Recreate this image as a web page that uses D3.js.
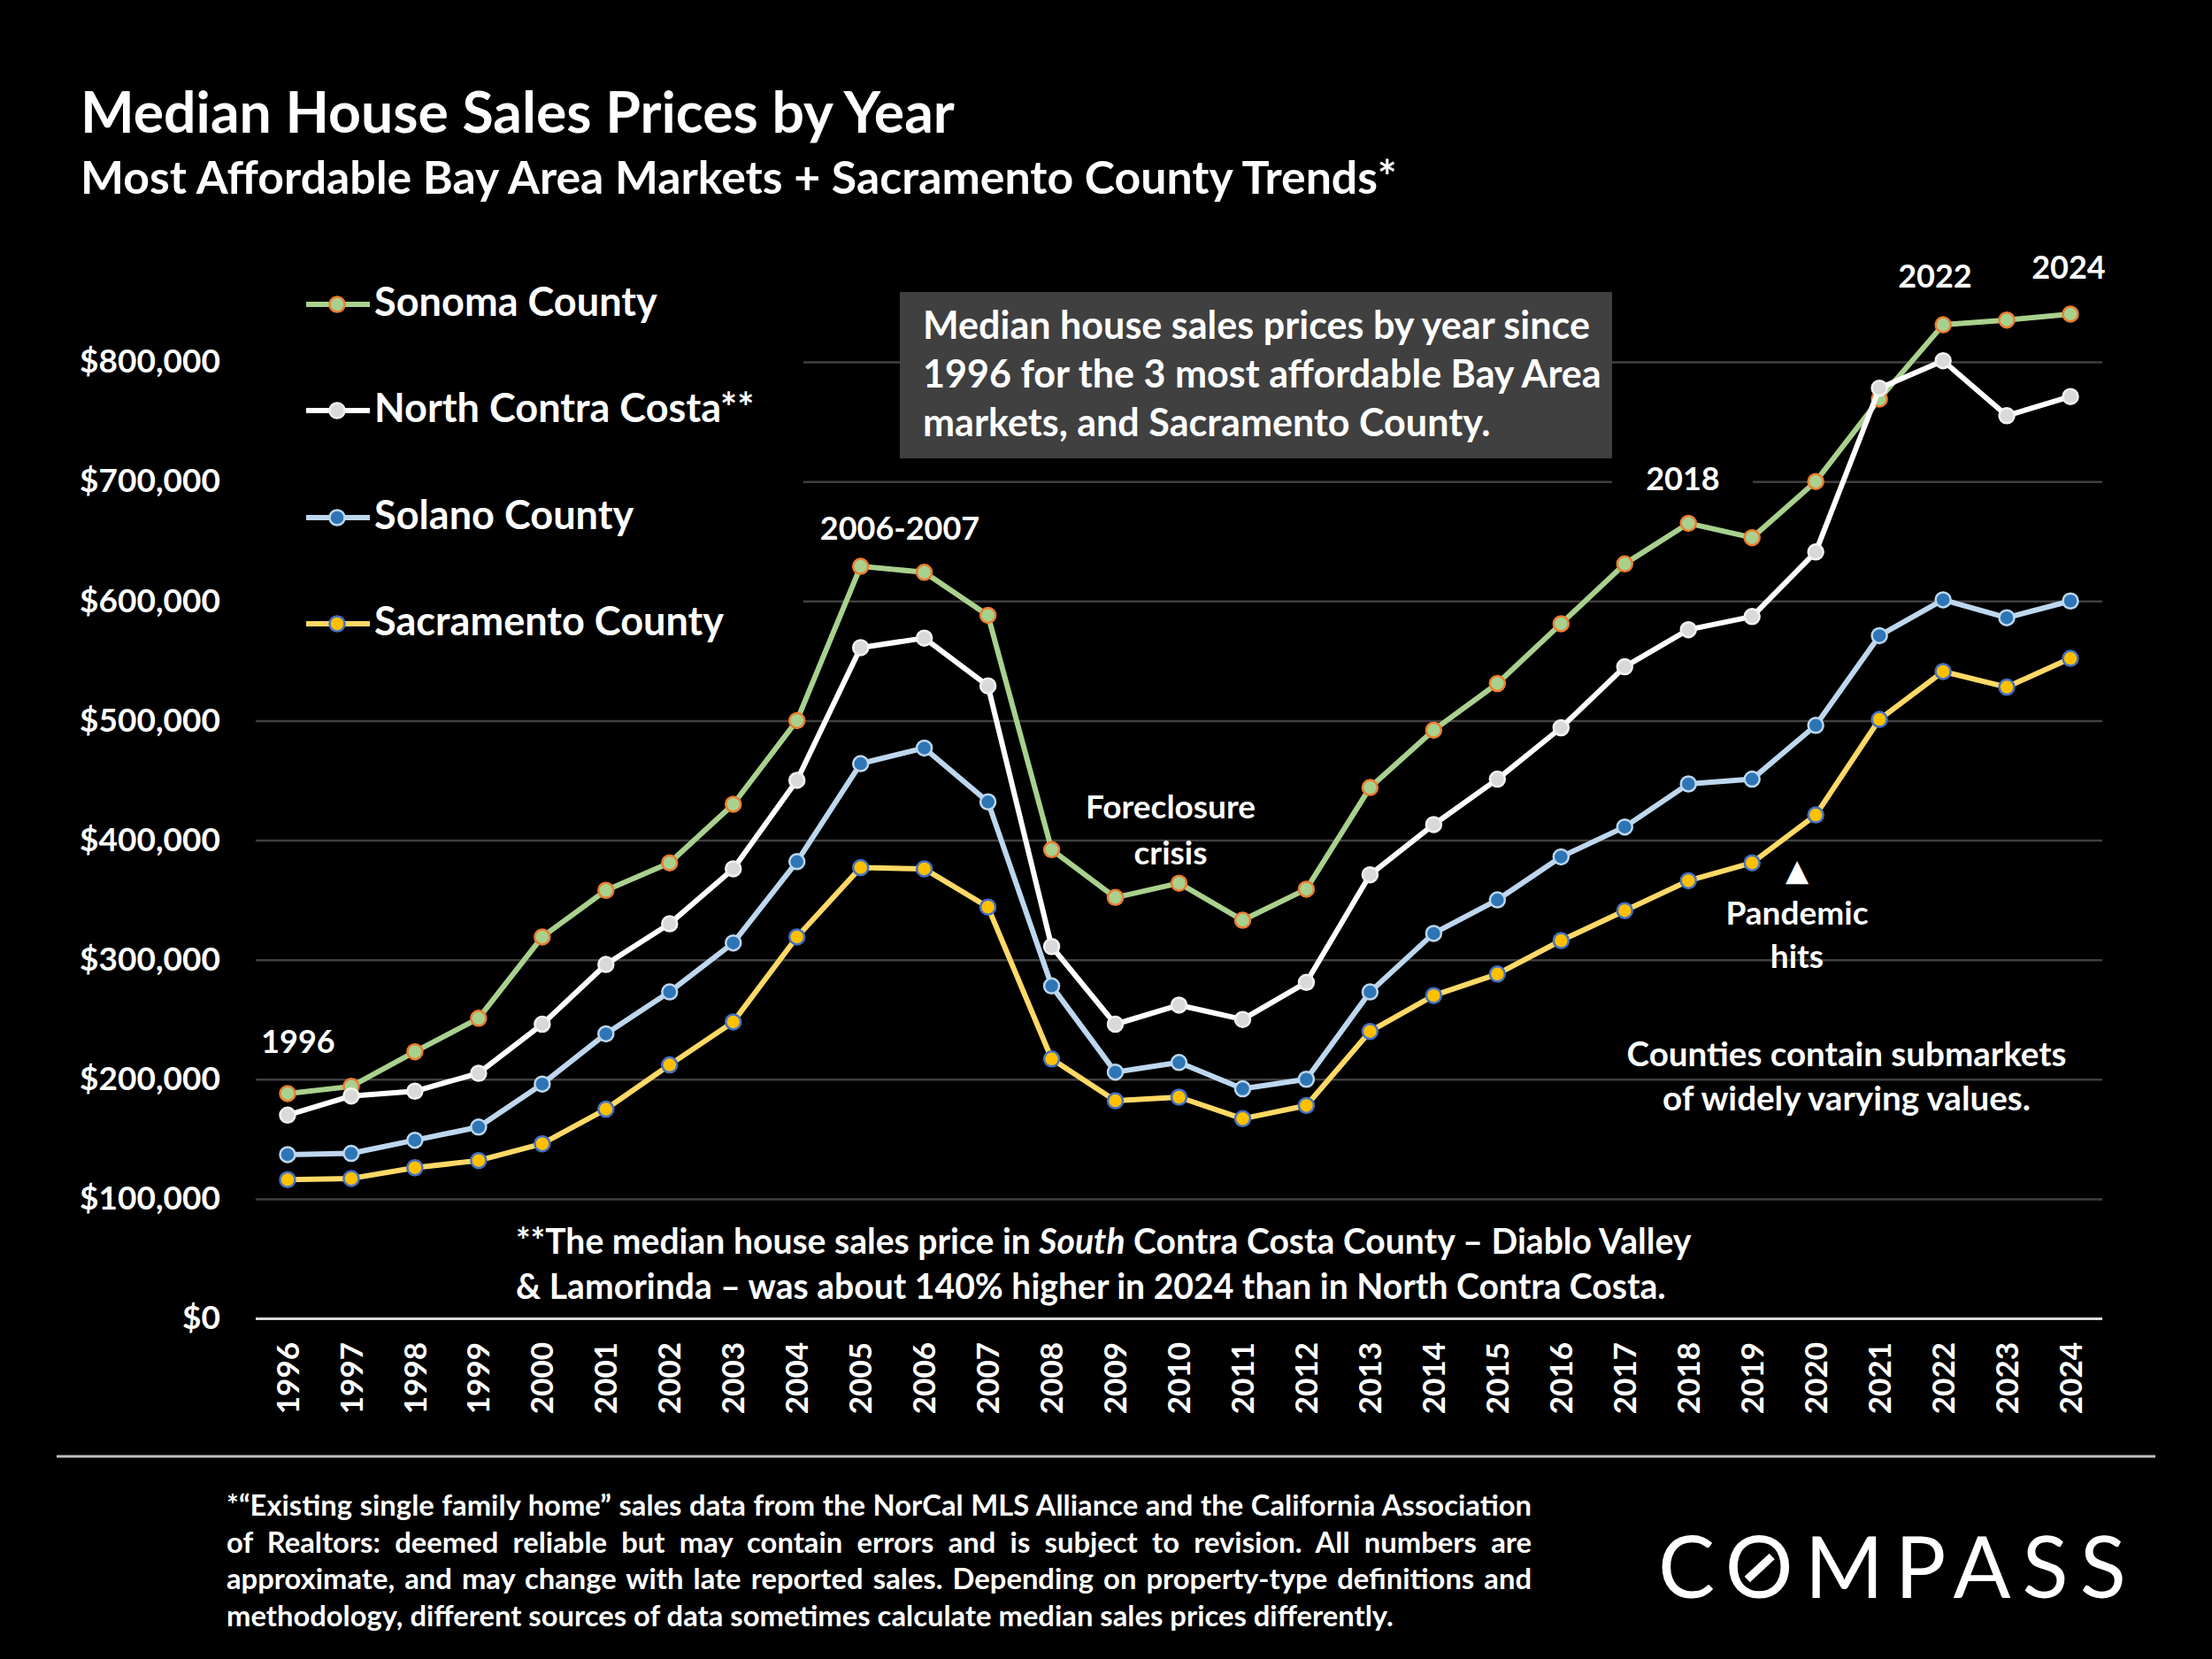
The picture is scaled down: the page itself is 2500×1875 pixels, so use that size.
<!DOCTYPE html>
<html>
<head>
<meta charset="utf-8">
<script src="https://cdn.jsdelivr.net/npm/d3@7"></script>
<style>
    body { margin: 0; background: #000; }
    svg { display: block; font-family: Lato, "Open Sans", sans-serif; font-weight: 700; }
    text { fill: #fff; }
</style>
</head>
<body>
<svg id="chart" width="2500" height="1875"></svg>
<script>
// Data
const years = ["1996", "1997", "1998", "1999", "2000", "2001", "2002", "2003", "2004", "2005",
    "2006", "2007", "2008", "2009", "2010", "2011", "2012", "2013", "2014", "2015",
    "2016", "2017", "2018", "2019", "2020", "2021", "2022", "2023", "2024"];
const sonoma = [188000, 194000, 223000, 251000, 319000, 358000, 381000, 430000, 500000, 629000,
    624000, 588000, 392000, 352000, 364000, 333000, 359000, 444000, 492000, 531000,
    581000, 631000, 665000, 653000, 700000, 769000, 831000, 835000, 840000];
const northContraCosta = [170000, 186000, 190000, 205000, 246000, 296000, 330000, 376000, 450000, 561000,
    569000, 529000, 311000, 246000, 262000, 250000, 281000, 371000, 413000, 451000,
    494000, 545000, 576000, 587000, 641000, 778000, 801000, 755000, 771000];
const solano = [137000, 138000, 149000, 160000, 196000, 238000, 273000, 314000, 382000, 464000,
    477000, 432000, 278000, 206000, 214000, 192000, 200000, 273000, 322000, 350000,
    386000, 411000, 447000, 451000, 496000, 571000, 601000, 586000, 600000];
const sacramento = [116000, 117000, 126000, 132000, 146000, 175000, 212000, 248000, 319000, 377000,
    376000, 344000, 217000, 182000, 185000, 167000, 178000, 240000, 270000, 288000,
    316000, 341000, 366000, 381000, 421000, 501000, 541000, 528000, 552000];
const yTicks = [0, 100000, 200000, 300000, 400000, 500000, 600000, 700000, 800000];

const seriesNames = ["Sonoma County", "North Contra Costa**", "Solano County", "Sacramento County"];
const seriesValues = [sonoma, northContraCosta, solano, sacramento];

const footnoteLines = [
    "*\u201CExisting single family home\u201D sales data from the NorCal MLS Alliance and the California Association",
    "of Realtors: deemed reliable but may contain errors and is subject to revision. All numbers are",
    "approximate, and may change with late reported sales. Depending on property-type definitions and",
    "methodology, different sources of data sometimes calculate median sales prices differently."
];

// Styles per series
const styles = [
    {line: "#A9D18E", fill: "#A9D18E", stroke: "#ED7D31"},
    {line: "#FFFFFF", fill: "#D9D9D9", stroke: "#F2F2F2"},
    {line: "#BDD7EE", fill: "#2E75B6", stroke: "#BDD7EE"},
    {line: "#FFD966", fill: "#FFC000", stroke: "#4472C4"}
];

let svg = d3.select("#chart");
let plotLeft = 289, plotRight = 2376, plotTop = 409, plotBottom = 1490;

svg.append("rect").attr("width", 2500).attr("height", 1875).attr("fill", "#000");

// fit a text to a target width by scaling its font size
function fit(sel, width) {
    let len = sel.node().getComputedTextLength();
    let size = parseFloat(sel.attr("font-size"));
    sel.attr("font-size", size * width / len);
    return size * width / len;
}

// Titles
fit(svg.append("text").attr("x", 91).attr("y", 150).attr("font-size", 60)
    .text("Median House Sales Prices by Year"), 988);
fit(svg.append("text").attr("x", 91).attr("y", 219).attr("font-size", 44)
    .text("Most Affordable Bay Area Markets + Sacramento County Trends*"), 1488);

// Scales
let x = d3.scaleBand().domain(years).range([plotLeft, plotRight]);
let y = d3.scaleLinear().domain([0, 800000]).range([plotBottom, plotTop]);
let cx = d => x(d) + x.bandwidth() / 2;

// Y axis with gridlines
let yAxis = svg.append("g")
    .attr("transform", "translate(" + plotLeft + ",0)")
    .call(d3.axisLeft(y).tickValues(yTicks).tickFormat(d3.format("$,"))
        .tickSize(-(plotRight - plotLeft)).tickPadding(40));
yAxis.select(".domain").remove();
yAxis.selectAll(".tick line")
    .attr("stroke", d => d === 0 ? "#D9D9D9" : "#404040")
    .attr("stroke-width", d => d === 0 ? 3 : 2.5);
yAxis.selectAll(".tick text")
    .attr("font-family", "Lato").attr("font-weight", 700)
    .attr("font-size", 37).attr("fill", "#fff");

// X axis, rotated labels
let xAxis = svg.append("g")
    .attr("transform", "translate(0," + plotBottom + ")")
    .call(d3.axisBottom(x).tickSize(0));
xAxis.select(".domain").remove();
xAxis.selectAll(".tick text")
    .attr("font-family", "Lato").attr("font-weight", 700)
    .attr("font-size", 35).attr("fill", "#fff")
    .attr("transform", "rotate(-90)")
    .attr("text-anchor", "end")
    .attr("x", -27).attr("y", 0).attr("dy", "0.36em");

// Legend (black box hides gridlines)
svg.append("rect").attr("x", plotLeft).attr("y", 300).attr("width", 908 - plotLeft).attr("height", 445)
    .attr("fill", "#000");
let legendY = [344, 464, 585, 705];
let legendText = [];
seriesNames.forEach((name, i) => {
    let g = svg.append("g").attr("transform", "translate(0," + legendY[i] + ")");
    g.append("line").attr("x1", 346).attr("x2", 418).attr("y1", 0).attr("y2", 0)
        .attr("stroke", styles[i].line).attr("stroke-width", 6);
    g.append("circle").attr("cx", 381).attr("cy", 0).attr("r", 8.5)
        .attr("fill", styles[i].fill).attr("stroke", styles[i].stroke).attr("stroke-width", 2.5);
    legendText.push(g.append("text").attr("x", 423).attr("y", 13).attr("font-size", 42).text(name));
});
// one size for all labels, matched to the widest ones
let ls = (fit(legendText[1], 432) + fit(legendText[3], 393)) / 2;
legendText.forEach(t => t.attr("font-size", ls));

// Annotation box
svg.append("rect").attr("x", 1017).attr("y", 330).attr("width", 805).attr("height", 188)
    .attr("fill", "#404040");
let boxLines = ["Median house sales prices by year since",
    "1996 for the 3 most affordable Bay Area",
    "markets, and Sacramento County."];
let boxText = svg.append("g");
boxLines.forEach((l, i) => {
    boxText.append("text").attr("x", 1043).attr("y", 383 + i * 55).attr("font-size", 38).text(l);
});
let bs = fit(boxText.select("text"), 754);
boxText.selectAll("text").attr("font-size", bs);

// "2018" label has a black fill
svg.append("rect").attr("x", 1822).attr("y", 508).attr("width", 159).attr("height", 64).attr("fill", "#000");

// Series lines and markers
let line = d3.line().x((d, i) => cx(years[i])).y(d => y(d));
seriesValues.forEach((vals, i) => {
    let g = svg.append("g");
    g.append("path").datum(vals)
        .attr("d", line)
        .attr("fill", "none")
        .attr("stroke", styles[i].line)
        .attr("stroke-width", 6)
        .attr("stroke-linejoin", "round");
    g.selectAll("circle").data(vals).join("circle")
        .attr("cx", (d, j) => cx(years[j]))
        .attr("cy", d => y(d))
        .attr("r", 8.5)
        .attr("fill", styles[i].fill)
        .attr("stroke", styles[i].stroke)
        .attr("stroke-width", 2.5);
});

// Annotations
function note(xp, yp, txt, size) {
    return svg.append("text").attr("x", xp).attr("y", yp).attr("text-anchor", "middle")
        .attr("font-size", size || 36).text(txt);
}
note(337, 1190, "1996");
note(1017, 610, "2006-2007");
note(1902, 554, "2018");
note(2187, 325, "2022");
note(2338, 315, "2024");
note(1323, 925, "Foreclosure", 37);
note(1323, 977, "crisis", 37);
svg.append("text").attr("x", 2031).attr("y", 995).attr("text-anchor", "middle")
    .attr("font-family", "DejaVu Sans").attr("font-size", 34).text("\u25B2");
note(2031, 1045, "Pandemic", 37);
note(2031, 1094, "hits", 37);
let c1 = note(2087, 1205, "Counties contain submarkets", 37);
let cs = fit(c1, 497);
note(2087, 1255, "of widely varying values.", cs);

// South Contra Costa note
let s1 = svg.append("text").attr("x", 583).attr("y", 1417).attr("font-size", 35);
s1.append("tspan").text("**The median house sales price in ");
s1.append("tspan").attr("font-style", "italic").text("South");
s1.append("tspan").text(" Contra Costa County \u2013 Diablo Valley");
let ss = fit(s1, 1329);
svg.append("text").attr("x", 583).attr("y", 1468).attr("font-size", ss)
    .text("& Lamorinda \u2013 was about 140% higher in 2024 than in North Contra Costa.");

// Separator
svg.append("line").attr("x1", 64).attr("x2", 2436).attr("y1", 1646).attr("y2", 1646)
    .attr("stroke", "#BFBFBF").attr("stroke-width", 3);

// Footnote, justified lines (size taken from the last, unjustified line)
let foot = footnoteLines.map((l, i) => svg.append("text").attr("x", 256).attr("y", 1713 + i * 41.5)
    .attr("font-size", 28).text(l));
let fs = fit(foot[3], 1319);
foot.forEach((t, i) => {
    t.attr("font-size", fs);
    if (i < foot.length - 1) {
        let len = t.node().getComputedTextLength();
        let spaces = footnoteLines[i].split(" ").length - 1;
        t.attr("word-spacing", (1475 - len) / spaces);
    }
});

// Logo
let logo = svg.append("text").attr("x", 1874).attr("y", 1806)
    .attr("font-weight", 400).attr("font-size", 96).attr("letter-spacing", 13)
    .text("COMPASS");
let ob = logo.node().getExtentOfChar(1);
let ocx = ob.x + ob.width / 2 - 6, ocy = 1806 - 35;
svg.append("line")
    .attr("x1", ocx - 14).attr("y1", ocy + 14).attr("x2", ocx + 14).attr("y2", ocy - 12)
    .attr("stroke", "#fff").attr("stroke-width", 9);
</script>
</body>
</html>
